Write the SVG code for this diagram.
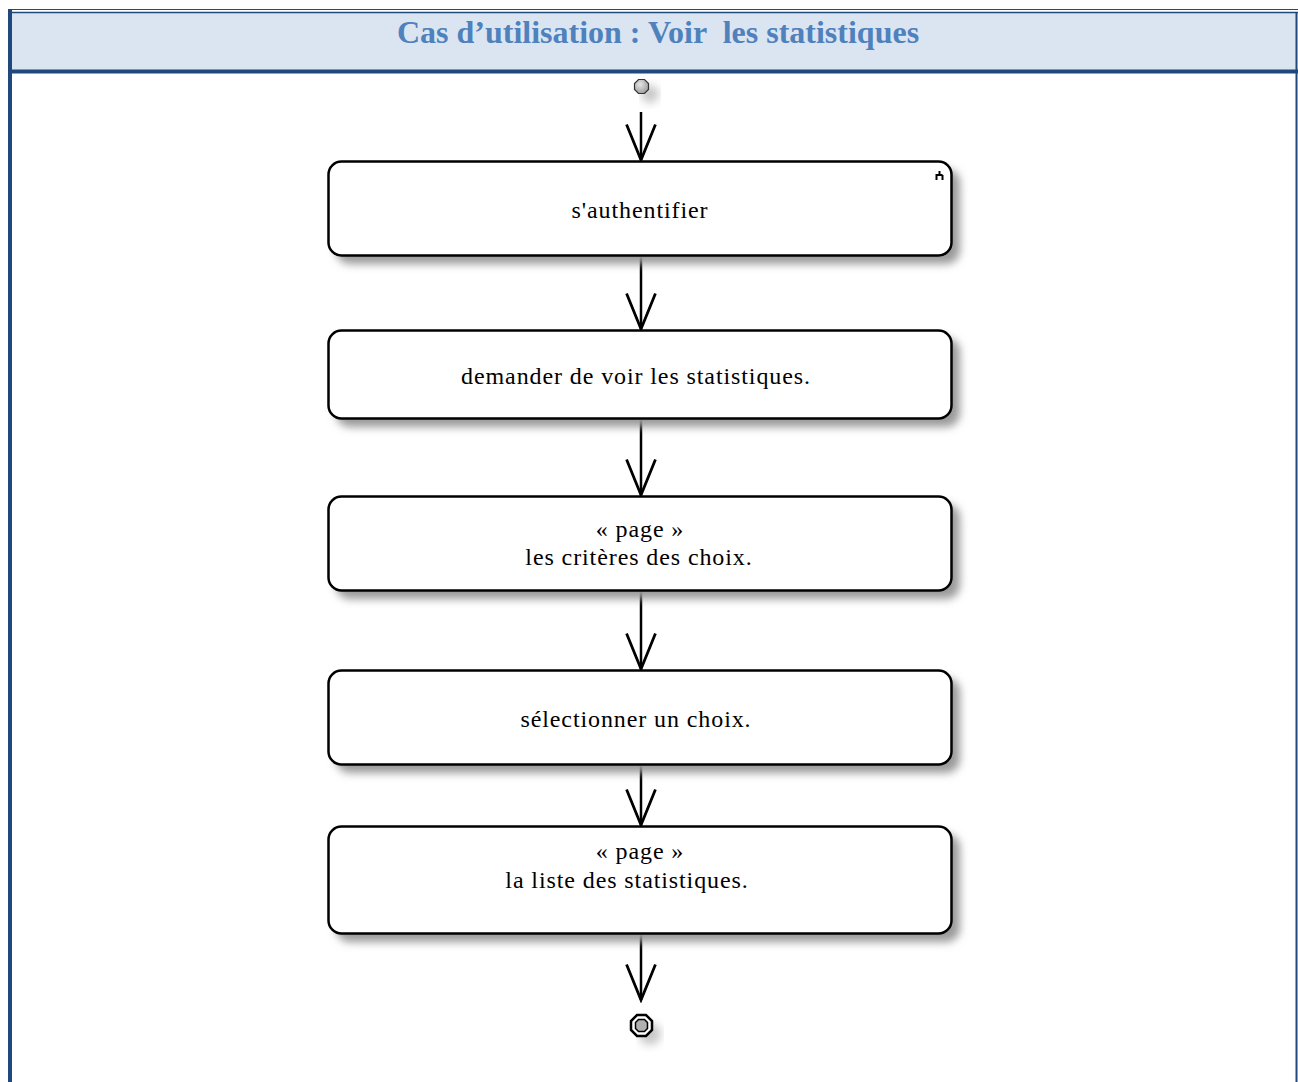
<svg xmlns="http://www.w3.org/2000/svg" width="1298" height="1082" viewBox="0 0 1298 1082">
  <defs>
    <style>
      .frame { fill: none; stroke: #1f497d; }
      .title { font-family: "Liberation Serif", "Times New Roman", serif; font-weight: bold; font-size: 32px; fill: #4f81bd; white-space: pre; }
      .act { fill: #ffffff; stroke: #000000; stroke-width: 2.5; }
      .shadow { fill: #9a9a9a; filter: url(#soft); }
      .label { font-family: "Liberation Serif", "Times New Roman", serif; font-size: 24px; letter-spacing: 0.9px; fill: #000000; text-anchor: middle; }
      .flow { fill: none; stroke: #000000; stroke-width: 2.5; }
    </style>
    <filter id="soft" x="-10%" y="-30%" width="120%" height="160%">
      <feGaussianBlur stdDeviation="4"/>
    </filter>
    <!-- open V arrowhead, drawn along +x so orient="auto" points it down the line -->
    <marker id="open" markerUnits="userSpaceOnUse" markerWidth="40" markerHeight="32" refX="33" refY="14" orient="auto" viewBox="0 0 36 28">
      <path d="M1,1 L33,14 L1,27" fill="none" stroke="#000" stroke-width="2.5"/>
    </marker>
    <radialGradient id="startFill" cx="40%" cy="35%" r="70%">
      <stop offset="0" stop-color="#e6e6e6"/>
      <stop offset="1" stop-color="#9a9a9a"/>
    </radialGradient>
  </defs>

  <!-- page background -->
  <rect x="0" y="0" width="1298" height="1082" fill="#ffffff"/>

  <!-- title band -->
  <rect x="10" y="12" width="1287" height="59" fill="#dbe5f1"/>
  <line class="frame" x1="8" y1="9.5" x2="1298" y2="9.5" stroke-width="1.2"/>
  <line class="frame" x1="10" y1="12.5" x2="1298" y2="12.5" stroke-width="1.5"/>
  <line class="frame" x1="10" y1="71.5" x2="1298" y2="71.5" stroke-width="4"/>
  <line class="frame" x1="10" y1="9" x2="10" y2="1082" stroke-width="4"/>
  <line class="frame" x1="1296.5" y1="12" x2="1296.5" y2="1082" stroke-width="2"/>
  <text class="title" x="658" y="43" text-anchor="middle" xml:space="preserve">Cas d’utilisation : Voir  les statistiques</text>

  <!-- connectors -->
  <g id="flows">
    <line class="flow" x1="641" y1="112" x2="641" y2="160" marker-end="url(#open)"/>
    <line class="flow" x1="641" y1="257" x2="641" y2="329" marker-end="url(#open)"/>
    <line class="flow" x1="641" y1="420" x2="641" y2="495" marker-end="url(#open)"/>
    <line class="flow" x1="641" y1="592" x2="641" y2="669" marker-end="url(#open)"/>
    <line class="flow" x1="641" y1="766" x2="641" y2="825" marker-end="url(#open)"/>
    <line class="flow" x1="641" y1="935" x2="641" y2="1000" marker-end="url(#open)"/>
  </g>

  <!-- initial node -->
  <g id="start">
    <circle cx="650" cy="94" r="9" fill="#c8c8c8" filter="url(#soft)"/>
    <polygon points="638.5,79.5 644.5,79.5 648.5,83.5 648.5,89.5 644.5,93.5 638.5,93.5 634.5,89.5 634.5,83.5" fill="url(#startFill)" stroke="#333" stroke-width="1.2"/>
  </g>

  <!-- actions -->
  <g id="authentifier">
    <rect class="shadow" x="336" y="169" width="624" height="95" rx="14"/>
    <rect class="act" x="328.5" y="161.5" width="623" height="94" rx="13"/>
    <path d="M936.5,180 v-6 M936.5,175 h6 M939.5,175 v-4 M942.5,175 v5" fill="none" stroke="#000" stroke-width="2"/>
    <text class="label" x="640" y="218">s'authentifier</text>
  </g>

  <g id="demander">
    <rect class="shadow" x="336" y="338" width="624" height="89" rx="14"/>
    <rect class="act" x="328.5" y="330.5" width="623" height="88" rx="13"/>
    <text class="label" x="636" y="384">demander de voir les statistiques.</text>
  </g>

  <g id="page-criteres">
    <rect class="shadow" x="336" y="504" width="624" height="95" rx="14"/>
    <rect class="act" x="328.5" y="496.5" width="623" height="94" rx="13"/>
    <text class="label" x="640" y="537">« page »</text>
    <text class="label" x="639" y="565">les critères des choix.</text>
  </g>

  <g id="selectionner">
    <rect class="shadow" x="336" y="678" width="624" height="95" rx="14"/>
    <rect class="act" x="328.5" y="670.5" width="623" height="94" rx="13"/>
    <text class="label" x="636" y="727">sélectionner un choix.</text>
  </g>

  <g id="page-liste">
    <rect class="shadow" x="336" y="834" width="624" height="108" rx="14"/>
    <rect class="act" x="328.5" y="826.5" width="623" height="107" rx="13"/>
    <text class="label" x="640" y="859">« page »</text>
    <text class="label" x="627" y="888">la liste des statistiques.</text>
  </g>

  <!-- final node -->
  <g id="end">
    <circle cx="650" cy="1034" r="11" fill="#c8c8c8" filter="url(#soft)"/>
    <polygon points="637,1015 646,1015 652,1021 652,1030 646,1036 637,1036 631,1030 631,1021" fill="#ffffff" stroke="#000" stroke-width="2.5"/>
    <polygon points="638.5,1019.5 644.5,1019.5 647.5,1022.5 647.5,1028.5 644.5,1031.5 638.5,1031.5 635.5,1028.5 635.5,1022.5" fill="#b0b0b0" stroke="#000" stroke-width="1.5"/>
  </g>
</svg>
